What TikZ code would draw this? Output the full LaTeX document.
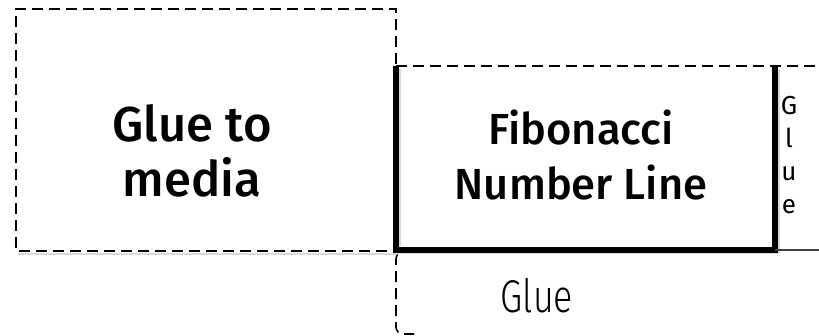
\documentclass[tikz,border=0pt]{standalone}
\usepackage{fontspec}
\setmainfont{Fira Sans}
\newfontfamily\labelfont{Fira Sans Medium}
\newfontfamily\narrowfont{Fira Sans Light}[FakeStretch=0.78]
\begin{document}
\begin{tikzpicture}[x=1pt,y=1pt,
  edge/.style={line width=1.6pt, dash pattern=on 11pt off 6pt},
  heavy/.style={line width=6pt, line join=miter},
  hair/.style={line width=1.2pt, draw=black!75},
  soft/.style={draw=black!15, line width=#1},
  bigtext/.style={font=\labelfont\fontsize{#1}{55}\selectfont, align=center, inner sep=0pt},
  smalltext/.style={font=\fontsize{26}{33}\selectfont, align=center, inner sep=0pt}]
\useasboundingbox (0,0) rectangle (819,336);

% corner points of the panels
\coordinate (mediaTL) at (16,327);
\coordinate (mediaBR) at (396,85);
\coordinate (fibTL) at (396,270);
\coordinate (fibBR) at (775,86);

% soft shadows under the outlines
\draw[soft=3pt] (399,267) -- (399,83) -- (778,83) -- (778,267);
\draw[soft=2pt] (18,82) -- (396,82);

% "Glue to media" panel
\draw[edge] (396,272) -- (mediaTL -| mediaBR) -- (mediaTL) -- (mediaTL |- mediaBR) -- (mediaBR);
\node[bigtext=49] (media) at (192,185) {Glue to\\media};

% main panel: dashed top, heavy sides and base
\draw[edge] (fibTL) -- (819,270);
\draw[heavy] (fibTL) -- (fibTL |- fibBR) -- (fibBR) -- (fibBR |- fibTL);
\node[bigtext=43.5] (fib) at (581,181) {Fibonacci\\Number Line};

% narrow glue strip on the right
\draw[hair] (775,86) -- (819,86);
\node[smalltext] (side) at (789,181) {G\\l\\u\\e};

% glue strip below
\draw[edge, rounded corners=7pt] (414,84) -| (396,2) -- (414,2);
\node[font=\narrowfont\fontsize{46}{46}\selectfont, anchor=base, inner sep=0pt] (bottom) at (537,23) {Glue};
\end{tikzpicture}
\end{document}
